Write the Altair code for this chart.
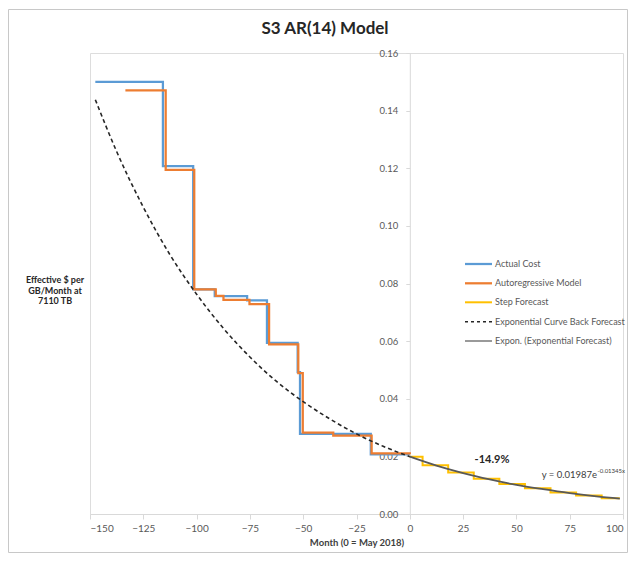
import altair as alt
import pandas as pd

# ---------------- data ----------------
actual_x = [-147.5, -115.8, -101.6, -91.5, -76.3, -67.0, -52.6, -51.5, -18.3, 0.0]
actual_y = [0.1500, 0.1207, 0.0780, 0.0756, 0.0741, 0.0594, 0.0492, 0.0278, 0.0207, 0.0207]

ar_x = [-133.4, -114.5, -101.1, -91.0, -87.4, -75.2, -66.0, -52.3, -50.2, -35.9, -17.9, 0.0]
ar_y = [0.1470, 0.1194, 0.0780, 0.0757, 0.0743, 0.0728, 0.0589, 0.0489, 0.0282, 0.0272, 0.0210, 0.0207]

step_x = [0, 6, 18, 30, 42, 54, 66, 78, 90, 98.5]
step_y = [0.0199, 0.0169, 0.0144, 0.0122, 0.0104, 0.0089, 0.0075, 0.0064, 0.0055, 0.0055]

back_x = [-147.5, -137.5, -125, -112.5, -100, -87.5, -75, -62.5, -50, -37.5, -25, -12.5, 0]
back_y = [0.1438, 0.1258, 0.1065, 0.0900, 0.0763, 0.0645, 0.0545, 0.0460, 0.0390, 0.0330, 0.0278, 0.0235, 0.0199]

trend_x = [0, 12.5, 25, 37.5, 50, 62.5, 75, 87.5, 98.5]
trend_y = [0.0199, 0.0168, 0.0142, 0.0120, 0.0101, 0.0086, 0.00725, 0.0061, 0.0053]

x_ticks = [-150, -125, -100, -75, -50, -25, 0, 25, 50, 75, 100]
y_ticks = [0.0, 0.02, 0.04, 0.06, 0.08, 0.10, 0.12, 0.14, 0.16]

legend_labels = ["Actual Cost", "Autoregressive Model", "Step Forecast",
                 "Exponential Curve Back Forecast", "Expon. (Exponential Forecast)"]

# ---------------- layout ----------------
W, H = 533, 461
FONT = "Lato"
AXIS_GRAY = "#D9D9D9"
LABEL_GRAY = "#595959"

xscale = alt.Scale(domain=[-150, 100], nice=False, zero=False)
yscale = alt.Scale(domain=[0, 0.16], nice=False)

X = alt.X("x:Q", scale=xscale,
          axis=alt.Axis(values=x_ticks, grid=False, domainColor=AXIS_GRAY, tickColor=AXIS_GRAY,
                        tickSize=5, labelPadding=4, labelColor=LABEL_GRAY, labelFont=FONT,
                        labelFontSize=10, title="Month (0 = May 2018)", titleFont=FONT,
                        titleFontSize=9.5, titleFontWeight="bold", titleColor="#404040",
                        titlePadding=4))
Y = alt.Y("y:Q", scale=yscale,
          axis=alt.Axis(values=y_ticks, format=".2f", grid=False, domainColor=AXIS_GRAY,
                        tickColor=AXIS_GRAY, tickSize=4, labelPadding=8, labelColor=LABEL_GRAY,
                        labelFont=FONT, labelFontSize=9.5, title=None, offset=-W * 150 / 250))


def line(xs, ys, **kw):
    df = pd.DataFrame({"x": xs, "y": ys})
    return alt.Chart(df).mark_line(**kw).encode(x=X, y=Y)


actual = line(actual_x, actual_y, interpolate="step-after", color="#5B9BD5", strokeWidth=2.25)
ar = line(ar_x, ar_y, interpolate="step-after", color="#ED7D31", strokeWidth=2.25)
step = line(step_x, step_y, interpolate="step-after", color="#FFC000", strokeWidth=2)
trend = line(trend_x, trend_y, interpolate="monotone", color="#595959", strokeWidth=1.75)
back = line(back_x, back_y, interpolate="monotone", color="#262626", strokeWidth=1.6,
            strokeDash=[4, 3])

one = pd.DataFrame({"t": [""]})

# border around the whole chart
border = alt.Chart(one).mark_rect(fillOpacity=0, stroke="#C8C8C8", strokeWidth=1).encode(
    x=alt.value(-81.5), x2=alt.value(537.5), y=alt.value(-43.5), y2=alt.value(499.5))

title = alt.Chart(one).mark_text(text="S3 AR(14) Model", font=FONT, fontSize=17,
                                 fontWeight="bold", color="#262626", baseline="middle",
                                 align="center").encode(x=alt.value(235), y=alt.value(-24))

ytitle = alt.Chart(one).mark_text(text="Effective $ per\nGB/Month at\n7110 TB", lineBreak="\n",
                                  lineHeight=10.5, font=FONT, fontSize=9, fontWeight="bold",
                                  color="#262626", align="center", baseline="top").encode(
    x=alt.value(-35), y=alt.value(223))

pct = alt.Chart(one).mark_text(text="-14.9%", font=FONT, fontSize=11, fontWeight="bold",
                               color="#262626", align="center", baseline="middle").encode(
    x=alt.value(402), y=alt.value(407))

eq_main = alt.Chart(one).mark_text(text="y = 0.01987e", font=FONT, fontSize=9.5,
                                   color="#404040", align="right", baseline="middle").encode(
    x=alt.value(507), y=alt.value(422))
eq_sup = alt.Chart(one).mark_text(text="-0.01345x", font=FONT, fontSize=6,
                                  color="#404040", align="left", baseline="middle").encode(
    x=alt.value(507.5), y=alt.value(418))

# manual legend
leg_styles = [
    dict(color="#5B9BD5", strokeWidth=2.25),
    dict(color="#ED7D31", strokeWidth=2.25),
    dict(color="#FFC000", strokeWidth=2),
    dict(color="#262626", strokeWidth=1.5, strokeDash=[3, 3]),
    dict(color="#8C8C8C", strokeWidth=1.75),
]
leg_y = [211, 230.3, 249.3, 268.7, 288]
legend_layers = []
for lab, sty, ly in zip(legend_labels, leg_styles, leg_y):
    legend_layers.append(
        alt.Chart(one).mark_rule(**sty).encode(x=alt.value(375), x2=alt.value(402),
                                               y=alt.value(ly), y2=alt.value(ly)))
    legend_layers.append(
        alt.Chart(one).mark_text(text=lab, font=FONT, fontSize=9, color=LABEL_GRAY,
                                 align="left", baseline="middle").encode(
            x=alt.value(405), y=alt.value(ly)))

chart = alt.layer(
    border, actual, ar, step, trend, back, title, ytitle, pct, eq_main, eq_sup, *legend_layers
).properties(
    width=W, height=H,
    autosize=alt.AutoSizeParams(type="none"),
    padding={"left": 82, "top": 45, "right": 5, "bottom": 39},
).configure_view(stroke=None).configure(background="white")

chart.save("out.html", embed_options={"renderer": "svg", "actions": False})
